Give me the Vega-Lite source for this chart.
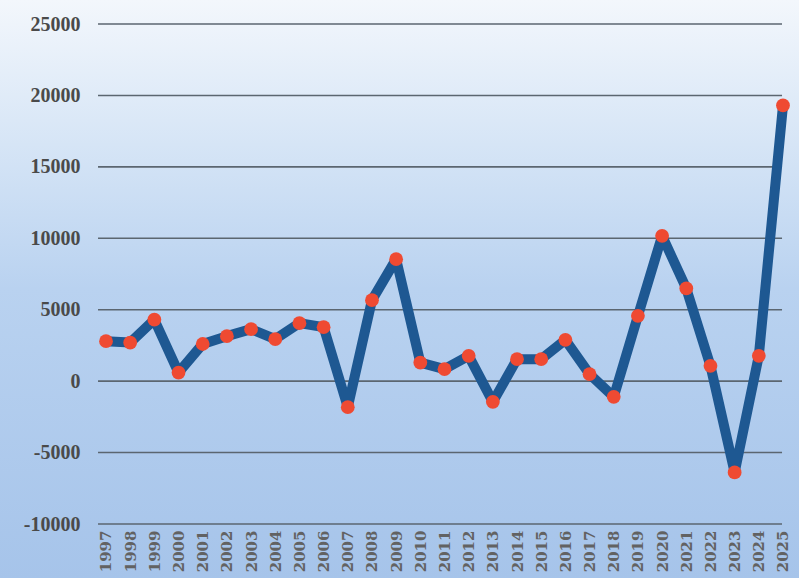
{
  "$schema": "https://vega.github.io/schema/vega-lite/v6.json",
  "width": 799,
  "height": 578,
  "autosize": {"type": "none"},
  "padding": 0,
  "background": "#ffffff",
  "config": {
    "view": {"stroke": null, "fill": {"gradient": "linear", "x1": 0, "y1": 0, "x2": 0, "y2": 1, "stops": [{"offset": 0, "color": "#f3f7fc"}, {"offset": 0.25, "color": "#d6e5f6"}, {"offset": 0.5, "color": "#b9d2f0"}, {"offset": 1, "color": "#a6c4ea"}]}}
  },
  "datasets": {
    "series": [
      {"year": 1997, "value": 2800},
      {"year": 1998, "value": 2700},
      {"year": 1999, "value": 4300},
      {"year": 2000, "value": 600},
      {"year": 2001, "value": 2600},
      {"year": 2002, "value": 3150},
      {"year": 2003, "value": 3640},
      {"year": 2004, "value": 2940},
      {"year": 2005, "value": 4060},
      {"year": 2006, "value": 3780},
      {"year": 2007, "value": -1820},
      {"year": 2008, "value": 5670},
      {"year": 2009, "value": 8540},
      {"year": 2010, "value": 1300},
      {"year": 2011, "value": 840},
      {"year": 2012, "value": 1770},
      {"year": 2013, "value": -1450},
      {"year": 2014, "value": 1540},
      {"year": 2015, "value": 1540},
      {"year": 2016, "value": 2890},
      {"year": 2017, "value": 490},
      {"year": 2018, "value": -1100},
      {"year": 2019, "value": 4570},
      {"year": 2020, "value": 10170},
      {"year": 2021, "value": 6490},
      {"year": 2022, "value": 1070},
      {"year": 2023, "value": -6390},
      {"year": 2024, "value": 1770},
      {"year": 2025, "value": 19300}
    ],
    "grid": [
      {"level": -10000}, {"level": -5000}, {"level": 0}, {"level": 5000},
      {"level": 10000}, {"level": 15000}, {"level": 20000}, {"level": 25000}
    ]
  },
  "layer": [
    {
      "data": {"name": "grid"},
      "mark": {"type": "rule", "color": "#5b6670", "strokeWidth": 1.6},
      "encoding": {
        "y": {"field": "level", "type": "quantitative", "scale": {"domain": [-13780, 26680], "nice": false, "zero": false},
          "axis": {"title": null, "offset": -98, "values": [-10000, -5000, 0, 5000, 10000, 15000, 20000, 25000], "tickCount": 10, "labelExpr": "'' + datum.value", "labelFont": "Liberation Serif", "labelFontSize": 20, "labelFontWeight": "bold", "labelColor": "#4a4a4a", "labelPadding": 18, "labelOverlap": false, "ticks": false, "domain": false, "grid": false}},
        "x": {"datum": 1996.67, "type": "quantitative", "scale": {"domain": [1992.616, 2025.662], "nice": false, "zero": false},
          "axis": {"title": null, "offset": -54, "values": [1997, 1998, 1999, 2000, 2001, 2002, 2003, 2004, 2005, 2006, 2007, 2008, 2009, 2010, 2011, 2012, 2013, 2014, 2015, 2016, 2017, 2018, 2019, 2020, 2021, 2022, 2023, 2024, 2025], "tickCount": 40, "format": "d", "labelAngle": -90, "labelFont": "DejaVu Serif", "labelFontWeight": "bold", "labelFontSize": 15, "labelColor": "#626262", "labelPadding": 6, "labelOverlap": false, "labelFlush": false, "labelBound": false, "ticks": false, "domain": false, "grid": false}},
        "x2": {"datum": 2024.96}
      }
    },
    {
      "data": {"name": "series"},
      "mark": {"type": "line", "color": "#1e5892", "strokeWidth": 10, "strokeJoin": "round"},
      "encoding": {
        "x": {"field": "year", "type": "quantitative"},
        "y": {"field": "value", "type": "quantitative"}
      }
    },
    {
      "data": {"name": "series"},
      "mark": {"type": "point", "filled": true, "color": "#ef4a32", "size": 190, "opacity": 1},
      "encoding": {
        "x": {"field": "year", "type": "quantitative"},
        "y": {"field": "value", "type": "quantitative"}
      }
    }
  ]
}
